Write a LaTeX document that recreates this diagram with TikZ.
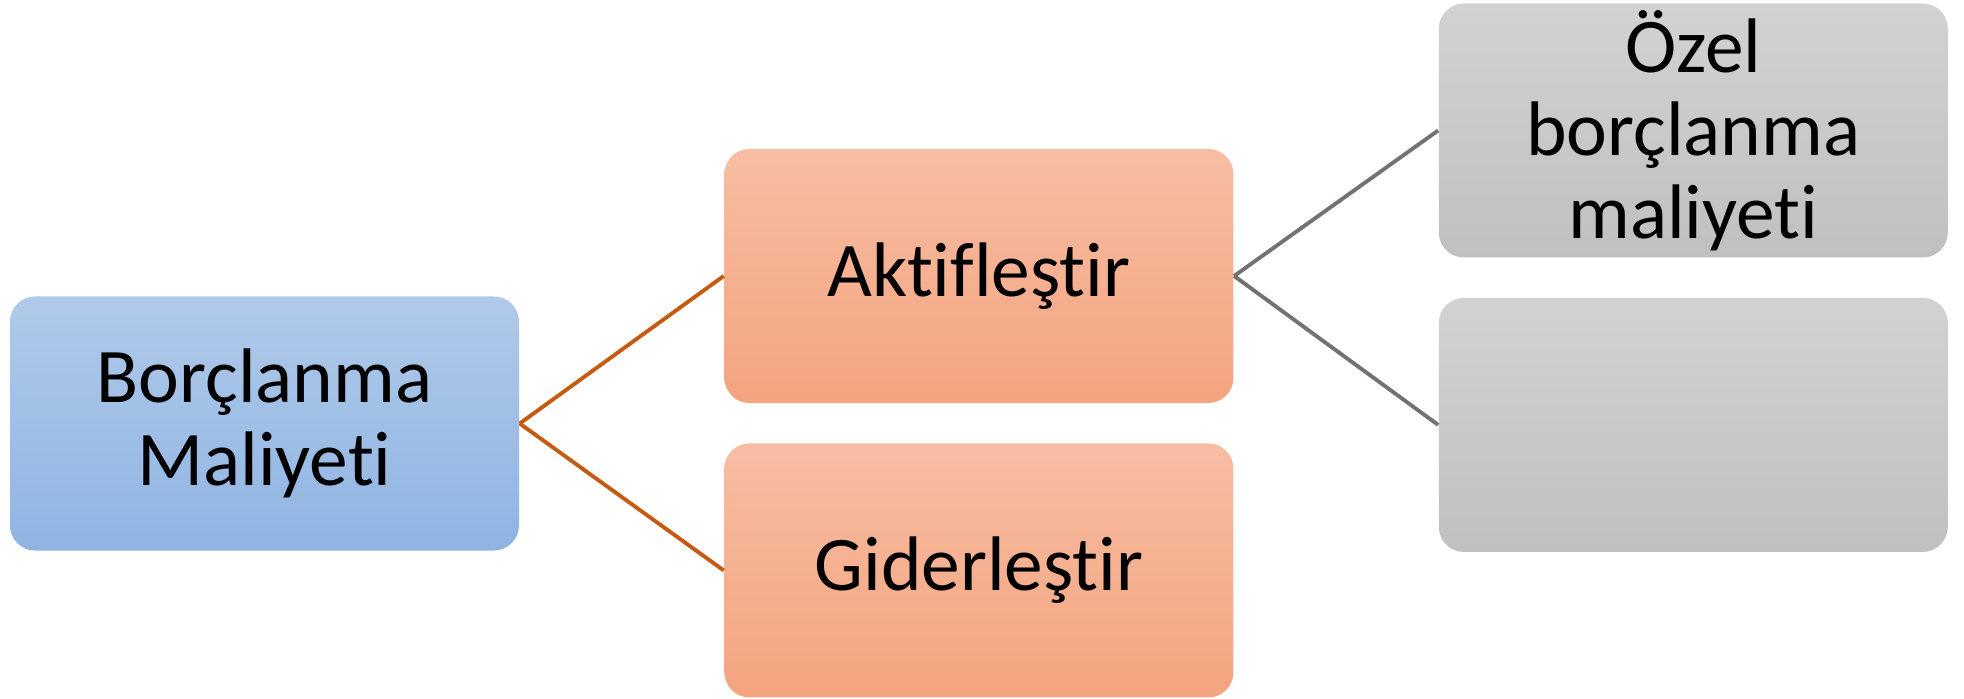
\documentclass[tikz,border=0pt]{standalone}
\usepackage{fontspec}
\setmainfont{Carlito}[Ligatures={NoCommon,NoContextual}, Contextuals=NoAlternate]
\usepackage{tikz}
\usetikzlibrary{positioning}
\definecolor{bluetop}{HTML}{B0CAE9}
\definecolor{bluebot}{HTML}{8FB4E3}
\definecolor{orangetop}{HTML}{F7BDA3}
\definecolor{orangebot}{HTML}{F4A47F}
\definecolor{graytop}{HTML}{D2D2D2}
\definecolor{graybot}{HTML}{C0C0C0}
\definecolor{orangeline}{HTML}{C55A11}
\definecolor{grayline}{HTML}{767171}
\tikzstyle{box} = [rectangle, rounded corners=0.25cm, minimum width=5.09cm, minimum height=2.54cm, inner sep=0pt, text centered, align=center, draw=none, font=\fontsize{22}{23.6}\selectfont]
\tikzstyle{bluebox} = [box, top color=bluetop, bottom color=bluebot]
\tikzstyle{orangebox} = [box, top color=orangetop, bottom color=orangebot]
\tikzstyle{graybox} = [box, top color=graytop, bottom color=graybot]
\tikzstyle{orangelink} = [line width=1.1pt, draw=orangeline]
\tikzstyle{graylink} = [line width=1.1pt, draw=grayline]

\begin{document}
\begin{tikzpicture}[node distance=2.04cm]
				\useasboundingbox (0,0) rectangle (19.64,-6.99);
				\node (borc) [bluebox] at (2.645,-4.235) {Borçlanma\\Maliyeti};
				\node (aktif) [orangebox, right=of borc, yshift=1.475cm] {Aktifleştir};
				\node (gider) [orangebox, below=0.39cm of aktif] {Giderleştir};
				\node (ozel) [graybox, right=of aktif, yshift=1.455cm] {Özel\\borçlanma\\maliyeti};
				\node (bos) [graybox, below=0.39cm of ozel] {};
				\draw[orangelink] (borc.east) -- (aktif.west);
				\draw[orangelink] (borc.east) -- (gider.west);
				\draw[graylink] (aktif.east) -- (ozel.west);
				\draw[graylink] (aktif.east) -- (bos.west);
			\end{tikzpicture}
\end{document}
